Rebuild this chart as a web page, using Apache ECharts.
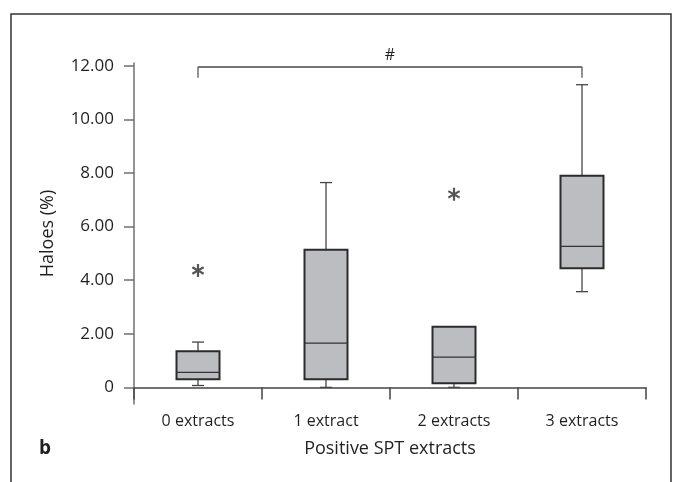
<!DOCTYPE html>
<html>
<head>
<meta charset="utf-8">
<script src="https://cdn.jsdelivr.net/npm/echarts@6/dist/echarts.min.js"></script>
<style>
  html, body { margin: 0; padding: 0; background: #ffffff; }
  #chart { width: 674px; height: 482px; }
</style>
</head>
<body>
<div id="chart"></div>
<script>
// ---- data ----
const categories = ['0 extracts', '1 extract', '2 extracts', '3 extracts'];
const boxMin    = [0.07, 0.00, 0.00, 3.57];
const boxQ1     = [0.30, 0.30, 0.15, 4.44];
const boxMedian = [0.56, 1.65, 1.13, 5.26];
const boxQ3     = [1.35, 5.13, 2.26, 7.89];
const boxMax    = [1.69, 7.64, 2.26, 11.29];
const outlierCategory = [0, 2];
const outlierValue    = [4.36, 7.20];
const yTickValues = [0, 2, 4, 6, 8, 10, 12];
const bracketFrom = 0, bracketTo = 3;
const bracketTop = 11.95, bracketEnd = 11.55;
const bracketLabel = '#';
const yAxisName = 'Haloes (%)';
const xAxisName = 'Positive SPT extracts';
const panelLetter = 'b';

const FONT = '"Open Sans", "Noto Sans", sans-serif';
const TEXT = '#231f20';

const asteriskPath = 'path://M0.85,5 L-0.85,5 L-0.85,-5 L0.85,-5 Z ' +
  'M4.76,1.76 L3.91,3.24 L-4.76,-1.76 L-3.91,-3.24 Z ' +
  'M-3.91,3.24 L-4.76,1.76 L3.91,-3.24 L4.76,-1.76 Z';

function renderBox(params, api) {
  const i = api.value(0);
  const p = k => api.coord([i, api.value(k)]);
  const pMin = p(1), pQ1 = p(2), pMed = p(3), pQ3 = p(4), pMax = p(5);
  const x = pMin[0];
  const hw = 21.5, cw = 6;
  const whisk = { stroke: '#454545', lineWidth: 1.3 };
  return {
    type: 'group',
    children: [
      { type: 'line', shape: { x1: x, y1: pMin[1], x2: x, y2: pQ1[1] }, style: whisk },
      { type: 'line', shape: { x1: x, y1: pQ3[1], x2: x, y2: pMax[1] }, style: whisk },
      { type: 'line', shape: { x1: x - cw, y1: pMin[1], x2: x + cw, y2: pMin[1] }, style: whisk },
      { type: 'line', shape: { x1: x - cw, y1: pMax[1], x2: x + cw, y2: pMax[1] }, style: whisk },
      { type: 'rect', shape: { x: x - hw, y: pQ3[1], width: 2 * hw, height: pQ1[1] - pQ3[1] },
        style: { fill: '#bcbdc0', stroke: '#2b2b2b', lineWidth: 2 } },
      { type: 'line', shape: { x1: x - hw, y1: pMed[1], x2: x + hw, y2: pMed[1] },
        style: { stroke: '#333333', lineWidth: 1.3 } }
    ]
  };
}

const chart = echarts.init(document.getElementById('chart'), null, { renderer: 'canvas' });

chart.setOption({
  animation: false,
  backgroundColor: '#ffffff',
  textStyle: { fontFamily: FONT, color: TEXT },
  grid: { left: 134, right: 28, top: 63, bottom: 78, containLabel: false, outerBoundsMode: 'none' },
  xAxis: {
    type: 'category',
    data: categories,
    boundaryGap: true,
    name: xAxisName,
    nameLocation: 'middle',
    nameGap: 36,
    nameTextStyle: { fontSize: 18, color: TEXT, fontFamily: FONT },
    axisLine: { show: true, lineStyle: { color: '#444444', width: 1.5 } },
    axisTick: { show: true, length: 12, interval: 0, lineStyle: { color: '#444444', width: 1.5 } },
    axisLabel: { fontSize: 16, color: TEXT, margin: 9, fontFamily: FONT, interval: 0 },
    splitLine: { show: false }
  },
  yAxis: {
    type: 'value',
    min: -0.62,
    max: 12.1,
    name: yAxisName,
    nameLocation: 'middle',
    nameGap: 77,
    nameRotate: 90,
    nameTextStyle: { fontSize: 18, color: TEXT, fontFamily: FONT },
    axisLine: { show: true, lineStyle: { color: '#707070', width: 1.5 } },
    axisTick: { show: true, length: 10, customValues: yTickValues, lineStyle: { color: '#707070', width: 1.5 } },
    axisLabel: {
      customValues: yTickValues,
      fontSize: 17, color: TEXT, margin: 20, fontFamily: FONT,
      formatter: v => (v === 0 ? '0' : Number(v).toFixed(2))
    },
    splitLine: { show: false }
  },
  graphic: [
    { type: 'polyline', shape: { points: [[11, 490], [11, 14], [671, 14], [671, 490]] },
      style: { stroke: '#333333', lineWidth: 1.5, fill: null }, silent: true },
    { type: 'text', left: 39, top: 439,
      style: { text: panelLetter, font: 'bold 19px ' + FONT, fill: TEXT } }
  ],
  series: [
    {
      type: 'custom',
      renderItem: renderBox,
      encode: { x: 0, y: [1, 2, 3, 4, 5] },
      data: categories.map((c, i) => [i, boxMin[i], boxQ1[i], boxMedian[i], boxQ3[i], boxMax[i]]),
      z: 3
    },
    {
      type: 'scatter',
      symbol: asteriskPath,
      symbolSize: 13,
      symbolKeepAspect: true,
      itemStyle: { color: '#2b2b2b' },
      data: outlierCategory.map((c, k) => [c, outlierValue[k]]),
      z: 4
    },
    {
      type: 'line',
      symbol: 'none',
      lineStyle: { color: '#6e6e6e', width: 1.5 },
      data: [[bracketFrom, bracketEnd], [bracketFrom, bracketTop], [bracketTo, bracketTop], [bracketTo, bracketEnd]],
      markLine: {
        silent: true,
        symbol: 'none',
        lineStyle: { color: '#6e6e6e', width: 1.5, type: 'solid' },
        label: { show: true, position: 'middle', formatter: bracketLabel, fontSize: 16, color: TEXT, fontFamily: FONT, distance: 4 },
        data: [[{ coord: [bracketFrom, bracketTop] }, { coord: [bracketTo, bracketTop] }]]
      },
      z: 2
    }
  ]
});
</script>
</body>
</html>
